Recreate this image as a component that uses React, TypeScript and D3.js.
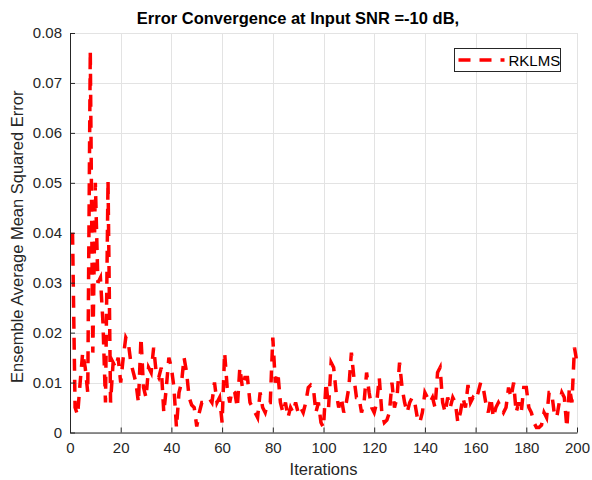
import * as d3 from "d3";
import { useEffect, useRef } from "react";

// ensemble average MSE per iteration
const mse = [
  0.040, 0.005, 0.0035, 0.010, 0.016, 0.013, 0.008, 0.0765, 0.016, 0.050,
  0.030, 0.031, 0.022, 0.006, 0.0505, 0.006, 0.014, 0.013, 0.015, 0.010,
  0.015, 0.019, 0.018, 0.014, 0.012, 0.010, 0.006, 0.019, 0.009, 0.007,
  0.013, 0.012, 0.017, 0.012, 0.011, 0.013, 0.004, 0.009, 0.015, 0.013,
  0.009, 0.001, 0.008, 0.010, 0.015, 0.012, 0.007, 0.0055, 0.005, 0.0012,
  0.004, 0.006, 0.006, 0.0065, 0.0068, 0.006, 0.010, 0.006, 0.007, 0.002,
  0.016, 0.009, 0.006, 0.0085, 0.008, 0.005, 0.013, 0.009, 0.011, 0.011,
  0.006, 0.005, 0.004, 0.003, 0.008, 0.005, 0.004, 0.006, 0.006, 0.019,
  0.010, 0.012, 0.006, 0.004, 0.006, 0.003, 0.005, 0.004, 0.006, 0.004,
  0.005, 0.004, 0.006, 0.009, 0.0095, 0.009, 0.004, 0.006, 0.002, 0.001,
  0.010, 0.005, 0.014, 0.013, 0.008, 0.005, 0.007, 0.004, 0.006, 0.009,
  0.016, 0.011, 0.007, 0.007, 0.004, 0.006, 0.012, 0.008, 0.005, 0.004,
  0.006, 0.011, 0.004, 0.002, 0.0025, 0.004, 0.010, 0.005, 0.007, 0.014,
  0.009, 0.006, 0.004, 0.006, 0.007, 0.006, 0.003, 0.002, 0.004, 0.008,
  0.007, 0.006, 0.007, 0.005, 0.012, 0.013, 0.006, 0.004, 0.007, 0.005,
  0.007, 0.006, 0.002, 0.004, 0.007, 0.005, 0.0095, 0.006, 0.007, 0.0065,
  0.008, 0.010, 0.009, 0.006, 0.004, 0.007, 0.003, 0.005, 0.006, 0.005,
  0.004, 0.005, 0.009, 0.007, 0.010, 0.004, 0.006, 0.004, 0.009, 0.009,
  0.005, 0.004, 0.002, 0.001, 0.001, 0.0015, 0.004, 0.003, 0.008, 0.008,
  0.004, 0.003, 0.006, 0.008, 0.007, 0.001, 0.009, 0.006, 0.017, 0.014,
];
const xTicks = [0, 20, 40, 60, 80, 100, 120, 140, 160, 180, 200];
const yTicks = [0, 0.01, 0.02, 0.03, 0.04, 0.05, 0.06, 0.07, 0.08];
const seriesName = "RKLMS";

const App = () => {
  const ref = useRef(null);

  useEffect(() => {
    const width = 592, height = 480;
    const margin = { top: 33, right: 15, bottom: 47.5, left: 70 };
    const w = width - margin.left - margin.right,
      h = height - margin.top - margin.bottom;
    const axisColor = "#262626";
    const font = "'Liberation Sans', Arial, sans-serif";

    const svg = d3.select(ref.current);
    svg.selectAll("*").remove();

    const x = d3.scaleLinear().domain([0, 200]).range([0, w]);
    const y = d3.scaleLinear().domain([0, 0.08]).range([h, 0]);

    const g = svg.append("g").attr("transform", "translate(" + margin.left + "," + margin.top + ")");

    // grid
    g.selectAll("line.hgrid").data(yTicks).enter()
      .append("line")
      .attr("x1", 0).attr("x2", w)
      .attr("y1", d => Math.round(y(d)) + 0.5).attr("y2", d => Math.round(y(d)) + 0.5)
      .attr("stroke", "#e3e3e3").attr("stroke-width", 1);
    g.selectAll("line.vgrid").data(xTicks).enter()
      .append("line")
      .attr("y1", 0).attr("y2", h)
      .attr("x1", d => Math.round(x(d)) + 0.5).attr("x2", d => Math.round(x(d)) + 0.5)
      .attr("stroke", "#e3e3e3").attr("stroke-width", 1);

    // the series
    const line = d3.line()
      .x((d, i) => x(i + 1))
      .y(d => y(d));
    g.append("path")
      .datum(mse)
      .attr("d", line)
      .attr("fill", "none")
      .attr("stroke", "#ff0000")
      .attr("stroke-width", 3.5)
      .attr("stroke-dasharray", "12 9");

    // axes (inward ticks like matlab)
    const xAxis = g.append("g")
      .attr("transform", "translate(0," + h + ")")
      .call(d3.axisBottom(x).tickValues(xTicks).tickSizeInner(-5).tickSizeOuter(0).tickPadding(10).tickFormat(d3.format("d")));
    const yAxis = g.append("g")
      .call(d3.axisLeft(y).tickValues(yTicks).tickSizeInner(-5).tickSizeOuter(0).tickPadding(8).tickFormat(d => d === 0 ? "0" : d3.format(".2f")(d)));
    [xAxis, yAxis].forEach(a => {
      a.select(".domain").attr("stroke", axisColor);
      a.selectAll(".tick line").attr("stroke", axisColor);
      a.selectAll("text").attr("fill", axisColor).style("font-size", "15px").style("font-family", font);
    });

    // labels
    svg.append("text")
      .attr("x", margin.left + w / 2).attr("y", 475)
      .attr("text-anchor", "middle")
      .style("font-size", "16.5px").style("font-family", font)
      .attr("fill", axisColor)
      .text("Iterations");
    svg.append("text")
      .attr("transform", "translate(23," + (margin.top + h / 2 + 4) + ") rotate(-90)")
      .attr("text-anchor", "middle")
      .style("font-size", "16.5px").style("font-family", font)
      .attr("fill", axisColor)
      .text("Ensemble Average Mean Squared Error");
    svg.append("text")
      .attr("x", 298).attr("y", 24)
      .attr("text-anchor", "middle")
      .style("font-size", "16.5px").style("font-weight", "bold").style("font-family", font)
      .attr("fill", "#000")
      .text("Error Convergence at Input SNR =-10 dB,");

    // legend
    const legend = svg.append("g").attr("transform", "translate(454.5,48.5)");
    legend.append("rect")
      .attr("width", 106).attr("height", 23)
      .attr("fill", "#fff").attr("stroke", axisColor).attr("stroke-width", 1);
    legend.append("line")
      .attr("x1", 4).attr("x2", 50).attr("y1", 11.5).attr("y2", 11.5)
      .attr("stroke", "#ff0000").attr("stroke-width", 3.5).attr("stroke-dasharray", "12 9");
    legend.append("text")
      .attr("x", 54).attr("y", 17)
      .style("font-size", "15px").style("font-family", font)
      .attr("fill", "#000")
      .text(seriesName);
  }, []);

  return <svg ref={ref} width={592} height={480} style={{ display: "block", position: "absolute", left: 0, top: 0, background: "#fff" }}></svg>;
};

export default App;
